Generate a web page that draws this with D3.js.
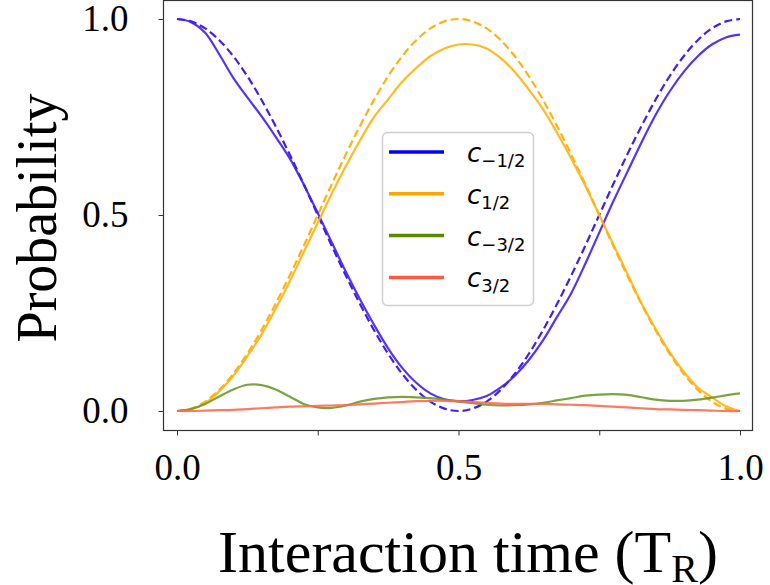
<!DOCTYPE html>
<html>
<head>
<meta charset="utf-8">
<script src="https://cdn.jsdelivr.net/npm/d3@7"></script>
<style>
  body { margin: 0; background: #fff; }
  svg { display: block; }
  .tick text { font-family: "Liberation Serif", "Times New Roman", serif; }
</style>
</head>
<body>
<svg width="770" height="585"></svg>
<script>
// interaction time samples (units of T_R)
var times = [0, .025, .05, .075, .1, .125, .15, .175, .2, .225, .25, .275, .3, .325, .35, .375, .4, .425, .45, .475,
             .5, .525, .55, .575, .6, .625, .65, .675, .7, .725, .75, .775, .8, .825, .85, .875, .9, .925, .95, .975, 1];

// simulated populations (solid)
var cMinusHalf = [1, .992, .965, .91, .85, .80, .752, .70, .645, .578, .505, .43, .355, .285, .22, .16, .11, .072, .045, .03,
                  .025, .028, .038, .06, .09, .13, .18, .24, .30, .375, .455, .535, .61, .685, .755, .815, .865, .905, .935, .953, .96];
var cHalf = [0, .004, .02, .05, .09, .14, .195, .26, .33, .405, .48, .555, .625, .69, .75, .795, .84, .875, .905, .925,
             .935, .935, .925, .90, .865, .82, .77, .71, .645, .575, .50, .425, .35, .275, .21, .15, .10, .06, .035, .012, 0];
var cMinus3Half = [0, .005, .018, .037, .055, .067, .066, .055, .037, .018, .009, .008, .014, .024, .031, .035, .036, .035, .033, .029,
                   .024, .02, .016, .014, .015, .017, .021, .027, .033, .039, .042, .043, .041, .035, .029, .026, .026, .029, .034, .04, .045];
var c3Half = [0, 0, .001, .002, .003, .005, .007, .009, .011, .012, .013, .014, .015, .017, .019, .021, .023, .025, .026, .026,
              .025, .023, .021, .019, .018, .018, .018, .017, .016, .015, .013, .011, .009, .007, .005, .004, .003, .002, .001, 0, 0];

// ideal two-level populations (dashed)
var idealMinusHalf = [1, .994, .976, .946, .905, .854, .794, .727, .655, .579, .5, .421, .345, .273, .206, .146, .095, .054, .024, .006,
                      0, .006, .024, .054, .095, .146, .206, .273, .345, .421, .5, .579, .655, .727, .794, .854, .905, .946, .976, .994, 1];
var idealHalf = [0, .006, .024, .054, .095, .146, .206, .273, .345, .421, .5, .579, .655, .727, .794, .854, .905, .946, .976, .994,
                 1, .994, .976, .946, .905, .854, .794, .727, .655, .579, .5, .421, .345, .273, .206, .146, .095, .054, .024, .006, 0];

var xTicks = [0, 0.25, 0.5, 0.75, 1];
var xTickLabels = ["0.0", "", "0.5", "", "1.0"];
var yTicks = [0, 0.5, 1];
var yTickLabels = ["0.0", "0.5", "1.0"];

var series = [
  {name: "-1/2", values: cMinusHalf, color: "#3f1ff2", key: "#0000ff"},
  {name: "1/2", values: cHalf, color: "#ffb20f", key: "#ffa500"},
  {name: "-3/2", values: cMinus3Half, color: "#6b9a2a", key: "#5a8a00"},
  {name: "3/2", values: c3Half, color: "#ff6a50", key: "#ff5a40"}
];
var ideal = [
  {values: idealMinusHalf, color: "#3f1ff2"},
  {values: idealHalf, color: "#ffb20f"}
];

var svg = d3.select("svg");

var frame = {left: 163, right: 752, top: 0, bottom: 430};

var x = d3.scaleLinear().domain([0, 1]).range([177, 740]);
var y = d3.scaleLinear().domain([0, 1]).range([411, 19]);

// frame
svg.append("rect")
    .attr("x", frame.left + 0.5)
    .attr("y", frame.top + 0.5)
    .attr("width", frame.right - frame.left)
    .attr("height", frame.bottom - frame.top)
    .attr("fill", "none")
    .attr("stroke", "#333")
    .attr("stroke-width", 1.2);

// axes
var xAxis = svg.append("g")
    .attr("transform", "translate(0," + (frame.bottom + 0.5) + ")")
    .call(d3.axisBottom(x).tickValues(xTicks).tickSize(5).tickPadding(18)
      .tickFormat(function(d, i) { return xTickLabels[i]; }));
xAxis.select(".domain").remove();
xAxis.selectAll("text").attr("font-size", 37).attr("fill", "#000");
xAxis.selectAll("line").attr("stroke", "#333");

var yAxis = svg.append("g")
    .attr("transform", "translate(" + (frame.left + 0.5) + ",0)")
    .call(d3.axisLeft(y).tickValues(yTicks).tickSize(5).tickPadding(30)
      .tickFormat(function(d, i) { return yTickLabels[i]; }));
yAxis.select(".domain").remove();
yAxis.selectAll("text").attr("font-size", 37).attr("fill", "#000");
yAxis.selectAll("line").attr("stroke", "#333");

// axis titles
svg.append("text")
    .attr("transform", "translate(56,218) rotate(-90)")
    .attr("text-anchor", "middle")
    .attr("font-family", "Liberation Serif, Times New Roman, serif")
    .attr("font-size", 56)
    .text("Probability");

var xt = svg.append("text")
    .attr("x", 468)
    .attr("y", 572)
    .attr("text-anchor", "middle")
    .attr("font-family", "Liberation Serif, Times New Roman, serif")
    .attr("font-size", 60);
xt.append("tspan").text("Interaction time (T");
xt.append("tspan").attr("font-size", 40).attr("dy", 10).text("R");
xt.append("tspan").attr("dy", -10).text(")");

// curves
var line = d3.line()
    .x(function(d, i) { return x(times[i]); })
    .y(function(d) { return y(d); })
    .curve(d3.curveCatmullRom.alpha(0.5));

var plot = svg.append("g");

plot.selectAll(".ideal")
    .data(ideal)
    .enter().append("path")
      .attr("class", "ideal")
      .attr("d", function(d) { return line(d.values); })
      .attr("fill", "none")
      .attr("stroke", function(d) { return d.color; })
      .attr("stroke-width", 2.2)
      .attr("stroke-dasharray", "8,4");

plot.selectAll(".sim")
    .data(series)
    .enter().append("path")
      .attr("class", "sim")
      .attr("d", function(d) { return line(d.values); })
      .attr("fill", "none")
      .attr("stroke", function(d) { return d.color; })
      .attr("stroke-width", 2.2)
      .attr("stroke-opacity", 0.9);

// legend
var legend = svg.append("g");
legend.append("rect")
    .attr("x", 382.5).attr("y", 132.5)
    .attr("width", 151).attr("height", 173)
    .attr("rx", 5)
    .attr("fill", "#fff").attr("fill-opacity", 0.85)
    .attr("stroke", "#d0d0d0").attr("stroke-width", 1.5);

var item = legend.selectAll(".item")
    .data(series)
    .enter().append("g")
      .attr("transform", function(d, i) { return "translate(0," + (152 + i * 41.8) + ")"; });

item.append("line")
    .attr("x1", 389).attr("x2", 444)
    .attr("stroke", function(d) { return d.key; })
    .attr("stroke-width", 3.5);

var lbl = item.append("text")
    .attr("x", 467).attr("y", 10)
    .attr("font-family", "DejaVu Sans, sans-serif")
    .attr("font-size", 26);
lbl.append("tspan").attr("font-style", "italic").text("c");
lbl.append("tspan")
    .attr("font-size", 18).attr("dy", 5)
    .text(function(d) { return d.name.replace("-", "\u2212"); });
</script>
</body>
</html>
